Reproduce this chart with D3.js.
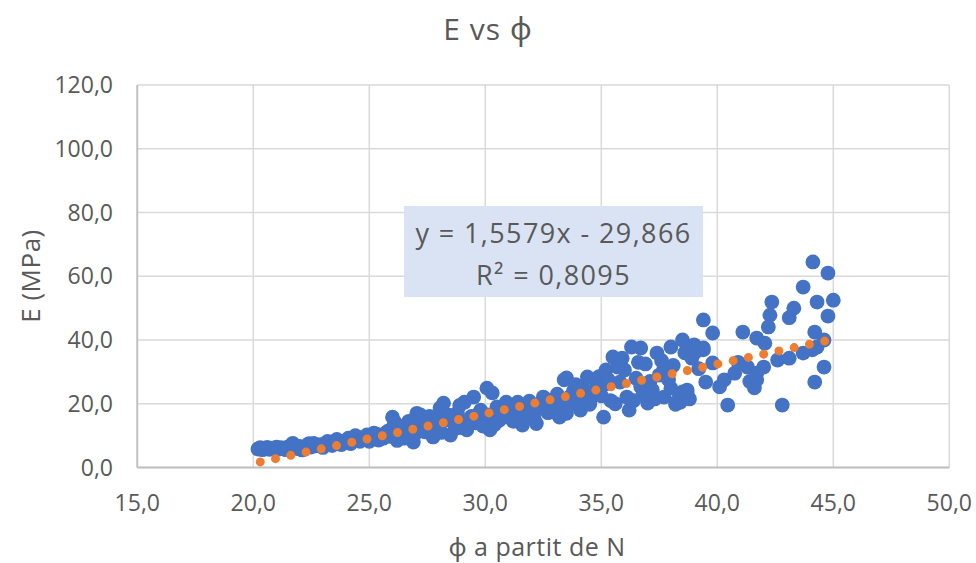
<!DOCTYPE html>
<html>
<head>
<meta charset="utf-8">
<script src="https://cdn.jsdelivr.net/npm/d3@7"></script>
<style>
  body { margin: 0; background: #fff; }
  text { font-family: "Open Sans", "Noto Sans", sans-serif; fill: #595959; }
</style>
</head>
<body>
<script>
// phi (a partit de N) values
const phi = [20.2,20.3,20.4,20.5,20.6,20.7,20.8,20.9,21.0,21.1,21.2,21.3,21.4,21.5,21.6,21.7,21.8,21.9,22.0,22.2,
  22.4,22.5,22.7,22.9,23.1,23.3,23.5,23.7,23.9,24.1,24.3,24.5,24.7,24.9,25.1,25.3,25.5,25.7,25.8,26.0,
  26.0,26.1,26.2,26.4,26.6,26.8,26.9,27.05,27.2,27.3,27.5,27.75,27.9,28.05,28.2,28.3,28.5,28.6,28.8,29.0,
  29.1,29.2,29.4,29.5,29.6,29.8,30.07,30.2,30.3,30.5,30.6,30.8,31.0,31.1,31.3,31.4,31.6,31.8,32.1,32.3,
  32.5,32.7,32.8,33.0,33.2,33.4,33.5,33.5,33.6,33.8,34.1,34.2,34.4,34.6,34.8,35.1,35.1,35.2,35.4,35.5,
  35.8,35.9,36.0,36.1,36.2,36.3,36.5,36.7,36.7,36.9,37.0,37.2,37.4,37.5,37.7,37.7,38.0,38.0,38.2,38.3,
  38.4,38.5,38.5,38.7,38.7,38.9,39.0,39.4,39.4,39.4,39.5,39.8,39.8,40.1,40.3,40.45,40.75,40.9,41.1,41.3,
  41.4,41.6,41.7,41.7,41.7,42.0,42.05,42.2,42.27,42.35,42.6,42.8,43.1,43.1,43.3,43.7,43.7,44.1,44.12,44.2,
  44.2,44.3,44.3,44.6,44.6,44.77,44.77,45.0,
  22.1,22.3,22.6,23.0,23.2,23.4,23.6,23.8,24.0,24.2,24.4,24.6,24.8,25.0,25.2,25.4,25.6,25.9,
  26.3,26.5,26.7,27.0,27.1,27.4,27.6,27.8,28.0,28.1,28.4,28.7,28.9,29.3,29.7,29.9,
  30.1,30.4,30.7,30.9,31.2,31.5,31.7,31.9,32.0,32.2,32.4,32.6,32.9,33.1,33.3,33.7,33.9,34.0,34.3,34.5,
  34.7,34.9,35.0,35.3,35.6,35.7,36.4,36.6,36.8,37.1,37.3,37.6,37.9,38.1,38.6,38.8,39.1,39.2];
// E (MPa) values
const eMod = [5.8,6.2,5.6,6.0,6.3,5.7,6.1,5.9,6.4,5.8,6.2,6.0,5.6,6.5,6.1,7.6,6.3,5.9,6.6,6.2,
  7.5,6.4,6.8,7.2,7.0,7.6,8.0,7.4,8.3,9.2,8.6,9.5,8.9,10.2,9.6,10.5,9.8,10.8,11.4,12.4,
  15.8,14.2,8.5,10.6,11.5,12.2,8.0,17.0,16.5,12.8,14.0,9.6,13.2,18.7,20.2,15.0,10.2,14.3,17.1,12.5,
  20.5,11.8,16.0,22.1,14.0,18.0,24.9,11.8,23.4,19.0,14.8,15.8,17.8,19.0,16.2,20.5,13.3,18.5,15.5,19.5,
  22.1,17.2,20.2,21.0,15.8,27.5,17.0,28.1,22.0,24.0,18.0,25.5,28.4,22.1,26.5,15.8,25.9,30.6,21.0,34.7,
  26.8,34.3,30.6,22.1,18.0,37.8,28.0,25.3,37.5,32.5,20.2,24.3,35.9,29.0,31.2,22.1,37.8,24.9,19.8,21.2,
  20.5,40.0,23.7,24.3,23.4,34.3,38.5,46.3,37.5,36.9,26.8,42.2,32.8,25.3,27.5,19.6,29.6,33.0,42.5,31.5,
  27.0,25.0,40.6,29.6,27.5,31.5,39.0,44.1,47.8,51.9,33.7,19.6,47.0,34.3,50.0,56.6,35.9,36.9,64.5,42.5,
  26.8,51.9,37.8,40.0,31.5,61.0,47.5,52.5,
  5.5,6.8,7.6,6.3,8.2,6.9,8.8,7.2,8.0,7.5,10.0,8.2,9.0,8.2,10.8,8.6,9.2,9.8,
  13.0,9.2,14.5,10.8,13.8,11.2,16.0,12.0,14.8,11.0,16.5,12.2,19.5,14.8,16.8,13.0,
  16.5,13.5,17.5,20.5,14.5,18.0,16.5,20.8,17.8,13.8,18.8,21.5,17.5,23.0,19.5,20.0,26.0,21.5,23.0,19.8,
  24.0,28.5,22.5,27.5,20.0,31.5,21.0,33.0,23.0,27.0,21.5,33.5,27.5,32.0,36.0,21.5,36.5,31.0];
const xTicks = [15,20,25,30,35,40,45,50];
const yTicks = [0,20,40,60,80,100,120];
const slope = 1.5579, intercept = -29.866;
const r2 = "0,8095";

const W = 976, H = 563;
const m = {left: 137.3, right: 949.3, top: 85, bottom: 467.5};
const fmt = v => d3.format(".1f")(v).replace(".", ",");

const svg = d3.select("body").append("svg").attr("width", W).attr("height", H);

const x = d3.scaleLinear().domain([15, 50]).range([m.left, m.right]);
const y = d3.scaleLinear().domain([0, 120]).range([m.bottom, m.top]);

// gridlines
svg.append("g").selectAll("line").data(yTicks).join("line")
  .attr("x1", m.left).attr("x2", m.right)
  .attr("y1", d => y(d)).attr("y2", d => y(d))
  .attr("stroke", "#d9d9d9").attr("stroke-width", 1.5);
svg.append("g").selectAll("line").data(xTicks).join("line")
  .attr("x1", d => x(d)).attr("x2", d => x(d))
  .attr("y1", m.top).attr("y2", m.bottom)
  .attr("stroke", "#d9d9d9").attr("stroke-width", 1.5);
svg.append("line").attr("x1", m.left).attr("x2", m.right)
  .attr("y1", y(0)).attr("y2", y(0)).attr("stroke", "#bfbfbf").attr("stroke-width", 1.8);
svg.append("line").attr("x1", m.left).attr("x2", m.left)
  .attr("y1", m.top).attr("y2", m.bottom).attr("stroke", "#bfbfbf").attr("stroke-width", 1.8);

// tick labels
svg.append("g").selectAll("text").data(yTicks).join("text")
  .attr("x", 113).attr("y", d => y(d)).attr("dy", "0.35em")
  .attr("text-anchor", "end").style("font-size", "23px").text(fmt);
svg.append("g").selectAll("text").data(xTicks).join("text")
  .attr("x", d => x(d)).attr("y", 503).attr("dy", "0.35em")
  .attr("text-anchor", "middle").style("font-size", "23px").text(fmt);

// points
const pts = phi.map((p, i) => ({x: p, y: eMod[i]}));
svg.append("g").selectAll("circle").data(pts).join("circle")
  .attr("cx", d => x(d.x)).attr("cy", d => y(d.y)).attr("r", 7.4)
  .attr("fill", "#4472c4");

// trendline
const ext = [20.3, 44.9];
svg.append("line")
  .attr("x1", x(ext[0])).attr("y1", y(slope * ext[0] + intercept))
  .attr("x2", x(ext[1])).attr("y2", y(slope * ext[1] + intercept))
  .attr("stroke", "#ed7d31").attr("stroke-width", 9)
  .attr("stroke-linecap", "round").attr("stroke-dasharray", "0 15.6");

// equation label
svg.append("rect").attr("x", 404).attr("y", 206).attr("width", 299).attr("height", 91)
  .attr("fill", "#dae3f3");
svg.append("text").attr("x", 553.5).attr("y", 243).attr("text-anchor", "middle")
  .style("font-size", "27px").style("letter-spacing", "1.4px")
  .text("y = " + String(slope).replace(".", ",") + "x - " + String(-intercept).replace(".", ","));
svg.append("text").attr("x", 553.5).attr("y", 285).attr("text-anchor", "middle")
  .style("font-size", "27px").style("letter-spacing", "1.4px").text("R² = " + r2);

// titles
svg.append("text").attr("x", 488).attr("y", 40).attr("text-anchor", "middle")
  .style("font-size", "30px").style("letter-spacing", "1px").text("E vs ϕ");
svg.append("text").attr("x", 537).attr("y", 556).attr("text-anchor", "middle")
  .style("font-size", "25px").style("letter-spacing", "0.5px").text("ϕ a partit de N");
svg.append("text").attr("transform", "translate(40,276) rotate(-90)")
  .attr("text-anchor", "middle").style("font-size", "26px").style("letter-spacing", "0.5px").text("E (MPa)");
</script>
</body>
</html>
